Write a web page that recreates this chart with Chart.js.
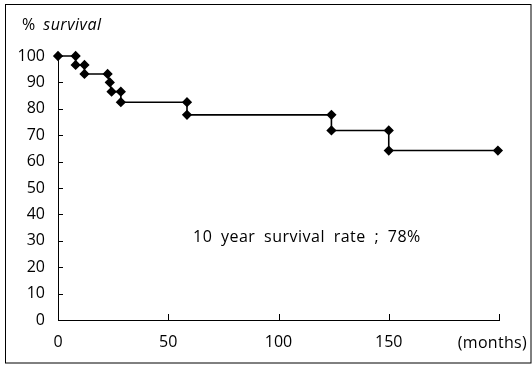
<!DOCTYPE html>
<html><head><meta charset="utf-8">
<script src="https://cdn.jsdelivr.net/npm/chart.js@4/dist/chart.umd.min.js"></script>
<style>html,body{margin:0;padding:0;background:#fff}#wrap{width:532px;height:369px;position:relative}</style>
</head><body><div id="wrap"><canvas id="c" width="532" height="369"></canvas></div>
<script>
// Kaplan-Meier survival steps (months, % survival); both ends of each drop are marked
const months   = [0, 8, 8, 12, 12, 22.5, 23.5, 24.3, 28.5, 28.5, 58.5, 58.5, 124, 124, 150, 150, 199.5];
const survival = [100, 100, 96.6, 96.6, 93.2, 93.2, 90.0, 86.5, 86.5, 82.5, 82.5, 77.7, 77.7, 71.8, 71.8, 64.2, 64.2];
const yTicks = [0,10,20,30,40,50,60,70,80,90,100];
const xTicks = [0,50,100,150,200];
const yTitlePrefix = '%';
const yTitleWord = 'survival';
const xUnitLabel = '(months)';
const note = '10 year survival rate ; 78%';

const FONT = '"Open Sans", "DejaVu Sans", sans-serif';

const deco = {
  id: 'deco',
  afterDraw(chart) {
    const ctx = chart.ctx, xs = chart.scales.x, ys = chart.scales.y;
    ctx.save();
    ctx.strokeStyle = '#000'; ctx.lineWidth = 1;
    // frame
    ctx.strokeRect(5.5, 4.5, 525.5, 358.5);
    // inward ticks
    ctx.beginPath();
    yTicks.forEach(v => { const y = Math.round(ys.getPixelForValue(v)) + 0.5; const x = xs.getPixelForValue(0); ctx.moveTo(x, y); ctx.lineTo(x + 5, y); });
    xTicks.filter(v => v > 0).forEach(v => { const x = Math.round(xs.getPixelForValue(v)) + 0.5; const y = ys.getPixelForValue(0); ctx.moveTo(x, y); ctx.lineTo(x, y - 6); });
    ctx.stroke();
    // texts
    ctx.fillStyle = '#000';
    ctx.textBaseline = 'middle';
    ctx.textAlign = 'left';
    ctx.font = '16px ' + FONT;
    ctx.fillText(yTitlePrefix, 22, 25);
    const w = ctx.measureText(yTitlePrefix).width;
    ctx.font = 'italic 16px ' + FONT;
    ctx.letterSpacing = '0.5px';
    ctx.fillText(yTitleWord, 22 + w + 8, 25);
    ctx.font = '16px ' + FONT;
    ctx.letterSpacing = '0.3px';
    ctx.textAlign = 'right';
    ctx.fillText(xUnitLabel, 527, 343);
    ctx.textAlign = 'left';
    ctx.letterSpacing = '0.5px';
    ctx.wordSpacing = '4px';
    ctx.fillText(note, 193, 237);
    ctx.restore();
  }
};

new Chart(document.getElementById('c'), {
  type: 'line',
  data: {
    datasets: [{
      data: months.map((m, i) => ({x: m, y: survival[i]})),
      borderColor: '#000', backgroundColor: '#000', borderWidth: 1.6,
      pointStyle: 'rectRot', pointRadius: 4, pointHoverRadius: 4,
      tension: 0, fill: false, clip: false
    }]
  },
  options: {
    responsive: false, animation: false, events: [],
    plugins: { legend: { display: false }, tooltip: { enabled: false } },
    layout: { padding: { left: 0, right: 33, top: 56, bottom: 0 } },
    scales: {
      x: {
        type: 'linear', min: 0, max: 200,
        afterBuildTicks: s => { s.ticks = xTicks.map(v => ({value: v})); },
        afterFit: s => { s.height = 49; },
        grid: { display: true, drawOnChartArea: false, drawTicks: false },
        border: { display: true, color: '#000', width: 1 },
        ticks: { color: '#000', font: { family: FONT, size: 16 }, padding: 13, maxRotation: 0,
                 callback: v => (v === 200 ? '' : String(v)) }
      },
      y: {
        type: 'linear', min: 0, max: 100,
        afterBuildTicks: s => { s.ticks = yTicks.map(v => ({value: v})); },
        afterFit: s => { s.width = 58; },
        grid: { display: true, drawOnChartArea: false, drawTicks: false },
        border: { display: true, color: '#000', width: 1 },
        ticks: { color: '#000', font: { family: FONT, size: 16 }, padding: 13 }
      }
    }
  },
  plugins: [deco]
});
</script></body></html>
